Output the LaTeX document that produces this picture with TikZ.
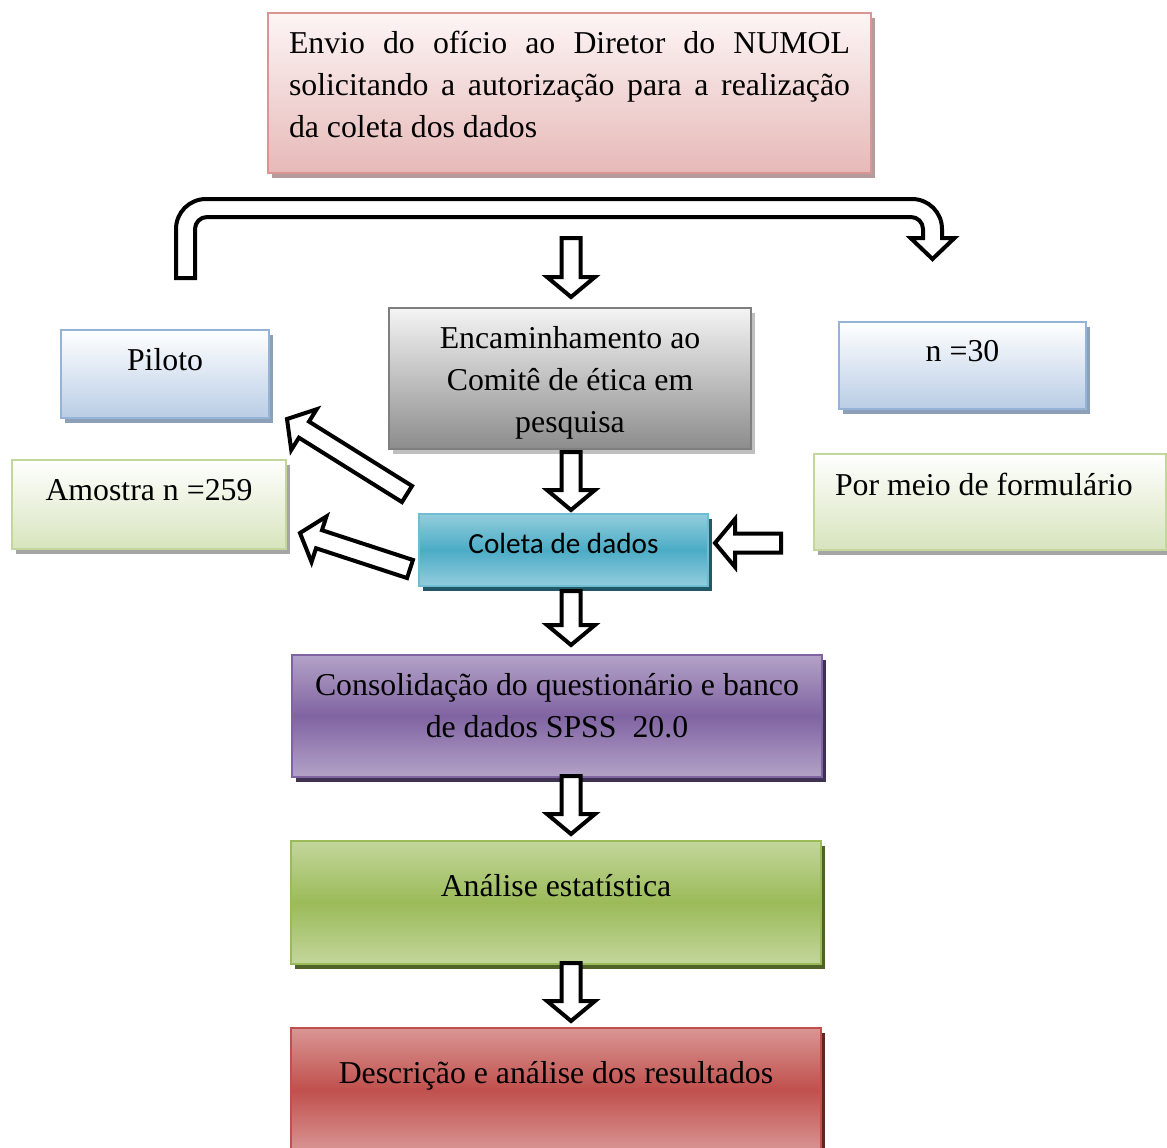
\documentclass[tikz,border=0pt]{standalone}
\usepackage{fontspec}
\setmainfont{Liberation Serif}
\newfontfamily\calibri{Carlito}
\usetikzlibrary{calc,shadows}

\definecolor{pinktop}{RGB}{253,245,245}
\definecolor{pinkbot}{RGB}{230,185,184}
\definecolor{pinkdraw}{RGB}{217,150,148}
\definecolor{pinkshad}{RGB}{181,155,155}
\definecolor{graytop}{RGB}{244,244,244}
\definecolor{graybot}{RGB}{140,140,140}
\definecolor{graydraw}{RGB}{127,127,127}
\definecolor{grayshad}{RGB}{191,191,191}
\definecolor{bluebot}{RGB}{185,205,229}
\definecolor{bluedraw}{RGB}{149,179,215}
\definecolor{blueshad}{RGB}{142,160,184}
\definecolor{limebot}{RGB}{215,228,189}
\definecolor{limedraw}{RGB}{195,214,155}
\definecolor{limeshad}{RGB}{165,165,165}
\definecolor{tealmid}{RGB}{75,172,198}
\definecolor{tealedge}{RGB}{147,205,221}
\definecolor{tealshad}{RGB}{33,89,104}
\definecolor{purpmid}{RGB}{128,100,162}
\definecolor{purpedge}{RGB}{179,162,199}
\definecolor{purpshad}{RGB}{63,49,81}
\definecolor{greenmid}{RGB}{155,187,89}
\definecolor{greenedge}{RGB}{195,214,155}
\definecolor{greenshad}{RGB}{79,98,40}
\definecolor{redmid}{RGB}{192,80,77}
\definecolor{rededge}{RGB}{217,150,148}
\definecolor{redshad}{RGB}{99,37,35}

\newcommand\boxfont{\fontsize{15.9}{21}\selectfont}

% Hollow block arrow from #1 (tail) to #2 (tip).
\newcommand\hollowarrow[2]{%
  \coordinate (hb) at ($(#2)!10pt!(#1)$);
  \draw[hollow] ($(#1)!4.75pt!90:(#2)$) -- ($(hb)!4.75pt!-90:(#1)$)
    -- ($(hb)!12pt!-90:(#1)$) -- (#2) -- ($(hb)!12pt!90:(#1)$)
    -- ($(hb)!4.75pt!90:(#1)$) -- ($(#1)!4.75pt!-90:(#2)$) -- cycle;}

\begin{document}
\begin{tikzpicture}[
        x=0.5pt, y=-0.5pt,
        box/.style={rectangle, draw, line width=1pt, inner ysep=0pt, anchor=north, font=\boxfont},
        shad/.style={drop shadow={shadow xshift=2pt, shadow yshift=-2.5pt, fill=#1, opacity=1}},
        envbox/.style={box, draw=pinkdraw, shad=pinkshad, top color=pinktop, bottom color=pinkbot},
        graybox/.style={box, draw=graydraw, shad=grayshad, top color=graytop, bottom color=graybot},
        bluebox/.style={box, draw=bluedraw, shad=blueshad, top color=white, bottom color=bluebot},
        limebox/.style={box, draw=limedraw, shad=limeshad, top color=white, bottom color=limebot},
        tealbox/.style={box, draw=tealmid!80, shad=tealshad, top color=tealedge, bottom color=tealedge, middle color=tealmid},
        purplebox/.style={box, draw=purpmid, shad=purpshad, top color=purpedge, bottom color=purpedge, middle color=purpmid},
        greenbox/.style={box, draw=greenmid, shad=greenshad, top color=greenedge, bottom color=greenedge, middle color=greenmid},
        redbox/.style={box, draw=redmid, shad=redshad, top color=rededge, bottom color=rededge, middle color=redmid},
        hollow/.style={draw=black, fill=white, line width=2pt, line join=miter}]
        \useasboundingbox (0,0) rectangle (1167,1147);

        % Request to the director.
        \node[envbox, text width=280.5pt, inner xsep=10.5pt, align=justify, text height=20pt, text depth=60pt]
                (envio) at (569.5,12) {Envio do ofício ao Diretor do NUMOL\linebreak solicitando a autorização para a realização\linebreak da coleta dos dados};

        % Main column.
        \node[graybox, text width=171pt, inner xsep=5pt, align=flush center, text height=20pt, text depth=50.5pt]
                (encam) at (570,307) {Encaminhamento ao\\ Comitê de ética em\\ pesquisa};
        \node[tealbox, minimum width=144.5pt, text height=19.5pt, text depth=16.5pt, font=\calibri\fontsize{14.6}{17}\selectfont]
                (coleta) at (563.5,513) {Coleta de dados};
        \node[purplebox, text width=255pt, inner xsep=5pt, align=flush center, text height=20pt, text depth=41pt]
                (consol) at (557,654) {Consolidação do questionário e banco\\ de dados SPSS\ \ 20.0};
        \node[greenbox, minimum width=265pt, text height=27.5pt, text depth=34pt]
                (analise) at (556,840) {Análise estatística};
        \node[redbox, minimum width=265pt, text height=27.5pt, text depth=34.5pt]
                (descr) at (556,1027) {Descrição e análise dos resultados};

        % Side boxes.
        \node[bluebox, minimum width=104pt, text height=20pt, text depth=24pt] (piloto) at (165,329) {Piloto};
        \node[bluebox, minimum width=123.5pt, text height=19.5pt, text depth=24pt] (n30) at (962.5,321) {n =30};
        \node[limebox, minimum width=137pt, text height=20pt, text depth=24.5pt] (amostra) at (149,459) {Amostra n =259};
        \node[limebox, text width=155pt, inner xsep=10.5pt, align=flush left, text height=20.5pt, text depth=27.5pt]
                (pormeio) at (990,453) {Por meio de formulário};

        % Arrow ends.
        \coordinate (a1s) at (571,238);
        \coordinate (a1t) at ($(a1s |- encam.north)+(0,-10)$);
        \coordinate (a2s) at ($(a1s |- encam.south)+(0,2)$);
        \coordinate (a2t) at ($(a1s |- coleta.north)+(0,-3)$);
        \coordinate (a3s) at ($(a1s |- coleta.south)+(0,4)$);
        \coordinate (a3t) at ($(a1s |- consol.north)+(0,-9)$);
        \coordinate (a4s) at ($(a1s |- consol.south)+(0,-2)$);
        \coordinate (a4t) at ($(a1s |- analise.north)+(0,-6)$);
        \coordinate (a5s) at ($(a1s |- analise.south)+(0,-2)$);
        \coordinate (a5t) at ($(a1s |- descr.north)+(0,-6)$);
        \coordinate (d1s) at ($(coleta.north west)+(-11,-19)$);
        \coordinate (d1t) at ($(piloto.south east)+(17,0)$);
        \coordinate (d2s) at ($(coleta.south west)+(-8,-18)$);
        \coordinate (d2t) at ($(amostra.south east)+(13,-17)$);
        \coordinate (r1s) at ($(pormeio.west |- coleta.east)+(-32,-7)$);
        \coordinate (r1t) at ($(coleta.east)+(6,-7)$);

        % Block arrows.
        \foreach \s/\t in {a1s/a1t, a2s/a2t, a3s/a3t, a4s/a4t, a5s/a5t, d1s/d1t, d2s/d2t, r1s/r1t}
                \hollowarrow{\s}{\t};

        % Bent arrow from the pilot over to n = 30.
        \draw[hollow] (176,278) -- (176,229) .. controls (176,212.4) and (189.4,199) .. (206,199) -- (912,199)
                .. controls (928.6,199) and (942,212.4) .. (942,229) -- (942,238) -- (954.5,238) -- (932.5,259)
                -- (910.5,238) -- (923,238) -- (923,229) .. controls (923,222.4) and (917.6,217) .. (911,217)
                -- (207,217) .. controls (200.4,217) and (195,222.4) .. (195,229) -- (195,278) -- cycle;
\end{tikzpicture}
\end{document}
